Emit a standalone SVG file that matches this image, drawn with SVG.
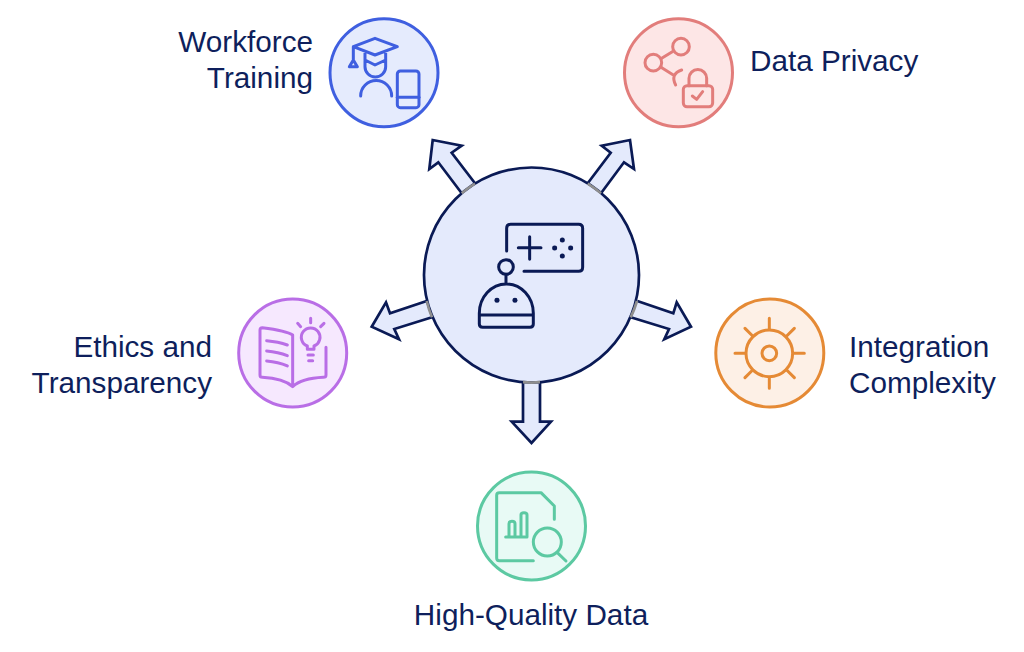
<svg xmlns="http://www.w3.org/2000/svg" width="1024" height="652" viewBox="0 0 1024 652">
<style>
text{font-family:"Liberation Sans",Arial,sans-serif;font-size:29.7px;fill:#0e1f5c}
.i{fill:none;stroke-width:9;stroke-linecap:round;stroke-linejoin:round}
.n{stroke-width:3}
.arrow{fill:#e4eafc;stroke:#0a1a55;stroke-width:2.7;stroke-linejoin:miter}
.base{fill:none;stroke:#8f8f8f;stroke-width:2.7}
</style>
<rect width="1024" height="652" fill="#fff"/>
<g id="connectors">
<path class="arrow" d="M461.7 193.3L438.3 162.3L429.3 169L432.7 140L461.7 145.7L451.7 152.7L475 183.3"/>
<path class="arrow" d="M587.7 183.3L610.7 152.7L601.7 145.7L630 140L634 169L624 162.3L601 193.3"/>
<path class="arrow" d="M426.7 301L390 313.3L386 302.3L371.7 326.7L399 339.3L394.3 329L432 317.3"/>
<path class="arrow" d="M637.3 301L673.3 313.3L676.700 302.3L691 326.7L664.3 339.3L669 329L630.7 317.3"/>
<path class="arrow" d="M523 382V421.7H511.7L531.5 443L551 421.7H540V382"/>
</g>
<g id="center">
<circle cx="531.5" cy="275" r="107.5" fill="#e4eafc" stroke="#0a1a55" stroke-width="2.7"/>
<path class="base" d="M461.7 193.3A107.5 107.5 0 0 1 475 183.7M587.7 183.7A107.5 107.5 0 0 1 601 193.3M426.7 301A107.5 107.5 0 0 0 432 317.3M637 301A107.5 107.5 0 0 1 630.7 317.3M523 382.2A107.5 107.5 0 0 0 540 382.2"/>
<g transform="translate(360 130) scale(.3333)" stroke="#0a1a55" class="i">
<path d="M440 363V295Q440 283 452 283H656Q668 283 668 295V412Q668 424 656 424H492M475 353H543M509 320V388"/>
<circle cx="438" cy="411" r="22"/>
<path d="M438 433V460M358 555H520M358 550A81 88 0 0 1 520 550V582Q520 592 510 592H368Q358 592 358 582Z"/>
<g fill="#0a1a55" stroke="none"><circle cx="607" cy="330" r="7.500"/><circle cx="584" cy="354" r="7.500"/><circle cx="632" cy="354" r="7.500"/><circle cx="607" cy="378" r="7.500"/><circle cx="411" cy="511" r="7.500"/><circle cx="465" cy="511" r="7.500"/></g>
</g>
</g>
<g id="workforce-training">
<circle class="n" cx="384" cy="72.7" r="54" fill="#e5ebfd" stroke="#3f5fe0"/>
<g transform="translate(320 10) scale(.3333)" class="i" stroke="#3f5fe0">
<path d="M100 110L165 85L232 110L165 135ZM100 110V150M100 150L88 170H112ZM135 125V170A30 30 0 0 0 197 170V125M135 150L165 165L197 150M122 258A46 46 0 0 1 215 258"/>
<rect x="232" y="183" width="65" height="110" rx="9"/>
<path d="M232 262H297"/>
</g>
<text x="313" y="52" text-anchor="end">Workforce</text>
<text x="313" y="88" text-anchor="end">Training</text>
</g>
<g id="data-privacy">
<circle class="n" cx="678.5" cy="72.7" r="54" fill="#fde6e6" stroke="#e27d7b"/>
<g transform="translate(615 10) scale(.3333)" class="i" stroke="#e27d7b">
<circle cx="198" cy="110" r="25"/><circle cx="115" cy="158" r="25"/>
<path d="M172 125L140 145M138 172L175 195M200 180Q165 192 182 225"/>
<rect x="205" y="227" width="88" height="63" rx="11"/>
<path d="M222 227V205A26.500 26.500 0 0 1 275 205V227M232 258L245 268L263 245"/>
</g>
<text x="750" y="71">Data Privacy</text>
</g>
<g id="ethics-transparency">
<circle class="n" cx="292.700" cy="353" r="54" fill="#f6e8fe" stroke="#b96ee6"/>
<g transform="translate(230 290) scale(.3333)" class="i" stroke="#b96ee6">
<path d="M188 282V135Q170 122 97 113Q90 113 90 120V255Q90 262 97 262Q160 265 188 290Q215 265 280 262Q288 262 288 255V172M110 152Q145 155 172 165M110 183Q145 186 172 197M110 213Q145 216 172 228"/>
<path d="M232 178V168A28 28 0 1 1 252 168V178ZM234 195H250M236 212H248M242 85V98M203 100L212 110M282 100L272 110"/>
</g>
<text x="212" y="357" text-anchor="end">Ethics and</text>
<text x="212" y="393" text-anchor="end">Transparency</text>
</g>
<g id="integration-complexity">
<circle class="n" cx="769.800" cy="353" r="54" fill="#fdf0e6" stroke="#e58a35"/>
<g transform="translate(705 290) scale(.3333)" class="i" stroke="#e58a35">
<circle cx="193" cy="190" r="22"/><circle cx="193" cy="190" r="70"/>
<path d="M193 85V118M90 190H122M265 190H298M193 262V295M120 115L143 138M268 115L245 138M120 263L143 240M268 263L245 240"/>
</g>
<text x="849" y="357">Integration</text>
<text x="849" y="393">Complexity</text>
</g>
<g id="high-quality-data">
<circle class="n" cx="531.500" cy="526" r="54" fill="#e8faf5" stroke="#5cc9a2"/>
<g transform="translate(465 462) scale(.3333)" class="i" stroke="#5cc9a2">
<path d="M205 296H103Q95 296 95 288V100Q95 92 103 92H228L268 132V172M122 225H180M132 225V185Q132 178 141 178Q150 178 150 185V225M168 225V158Q168 152 177 152Q186 152 186 158V225"/>
<circle cx="247" cy="240" r="42"/>
<path d="M277 272L303 297"/>
</g>
<text x="531" y="625" text-anchor="middle">High-Quality Data</text>
</g>
</svg>
